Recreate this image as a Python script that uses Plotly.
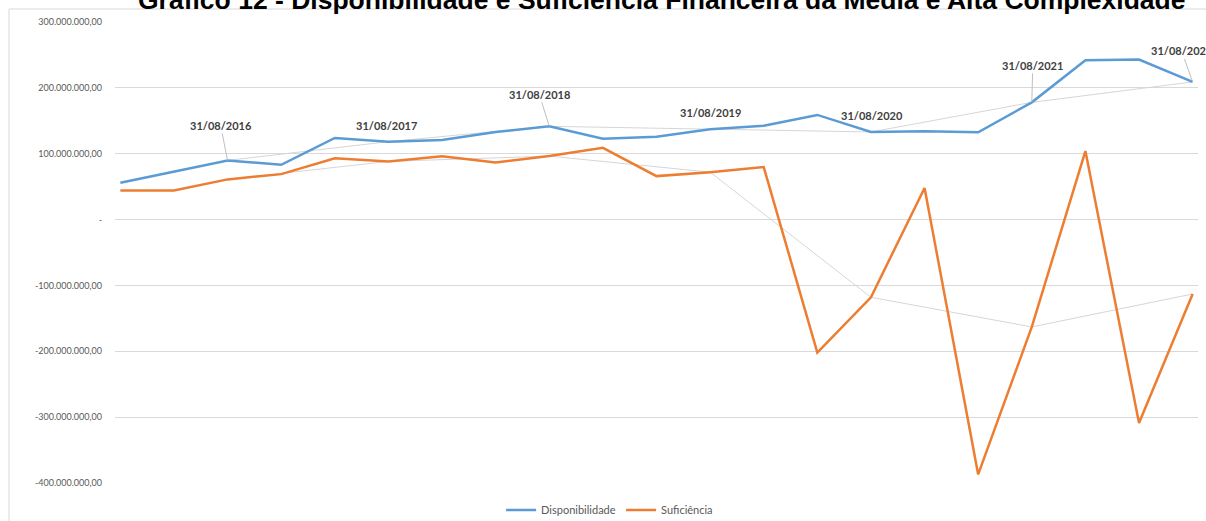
import plotly.graph_objects as go

# quadrimestral closing dates (31/12/2015 .. 31/08/2022)
datas = ["31/12/2015", "30/04/2016", "31/08/2016", "31/12/2016", "30/04/2017", "31/08/2017",
         "31/12/2017", "30/04/2018", "31/08/2018", "31/12/2018", "30/04/2019", "31/08/2019",
         "31/12/2019", "30/04/2020", "31/08/2020", "31/12/2020", "30/04/2021", "31/08/2021",
         "31/12/2021", "30/04/2022", "31/08/2022"]

# values in R$ millions
disponibilidade = [55.8, 72.6, 89.8, 83.2, 123.9, 118.3, 120.8, 133.0, 141.6, 122.8, 125.9, 137.0,
                   142.6, 158.9, 133.0, 134.0, 132.5, 178.0, 242.0, 243.0, 209.0]
suficiencia = [44.0, 44.0, 61.0, 69.0, 93.0, 88.3, 96.0, 86.8, 96.4, 109.0, 66.0, 72.0,
               79.7, -202.0, -118.0, 48.0, -387.0, -163.0, 104.0, -309.0, -113.0]

# labelled points (31/08 of each year)
idx_ago = [2, 5, 8, 11, 14, 17, 20]

y_ticks = [300, 200, 100, 0, -100, -200, -300, -400]
y_ticktext = ["300.000.000,00", "200.000.000,00", "100.000.000,00", "-",
              "-100.000.000,00", "-200.000.000,00", "-300.000.000,00", "-400.000.000,00"]

AZUL = "#5B9BD5"
LARANJA = "#ED7D31"
CINZA = "#D9D9D9"
TXT = "#595959"

x = list(range(len(datas)))

fig = go.Figure()

# thin grey lines joining the 31/08 points
for serie in (disponibilidade, suficiencia):
    fig.add_trace(go.Scatter(x=[x[i] for i in idx_ago], y=[serie[i] for i in idx_ago],
                             mode="lines", line=dict(color="#D6D6D6", width=1),
                             showlegend=False, hoverinfo="skip"))

fig.add_trace(go.Scatter(x=x, y=disponibilidade, mode="lines", name="Disponibilidade",
                         line=dict(color=AZUL, width=2.5), customdata=datas))
fig.add_trace(go.Scatter(x=x, y=suficiencia, mode="lines", name="Suficiência",
                         line=dict(color=LARANJA, width=2.5), customdata=datas))

# data labels (dx, dy in px from the point, leader line or not)
offsets = {2: (-7, -35, True), 5: (-2, -16, False), 8: (-10, -32, True),
           11: (0, -17, False), 14: (1, -16, False), 17: (1, -37, True), 20: (-11, -31, True)}
lbl_font = dict(family="Lato", size=11, color="#404040")
for i in idx_ago:
    dx, dy, leader = offsets[i]
    if leader:
        fig.add_annotation(x=x[i], y=disponibilidade[i], text="<b>" + datas[i] + "</b>",
                           showarrow=True, ax=dx, ay=dy, arrowhead=0, arrowwidth=1,
                           arrowcolor="#BFBFBF", standoff=0, font=lbl_font)
    else:
        fig.add_annotation(x=x[i], y=disponibilidade[i], text="<b>" + datas[i] + "</b>",
                           showarrow=False, xshift=dx, yshift=-dy, font=lbl_font)

# title, partly cut at the top as in the original
fig.add_annotation(xref="paper", yref="paper", x=0.505, y=1.048, yanchor="middle",
                   text="<b>Gráfico 12 - Disponibilidade e Suficiência Financeira da Média e Alta Complexidade</b>",
                   showarrow=False, font=dict(family="Liberation Sans", size=26.5, color="black"))

# chart frame
fig.add_shape(type="line", xref="paper", yref="paper", x0=-0.0979, x1=-0.0979, y0=1.0282, y1=-0.2,
              line=dict(color=CINZA, width=1))
fig.add_shape(type="line", xref="paper", yref="paper", x0=-0.0979, x1=1.1, y0=1.0282, y1=1.0282,
              line=dict(color=CINZA, width=1))

fig.update_layout(
    width=1206, height=521,
    margin=dict(l=115, r=8, t=22, b=38, autoexpand=False),
    plot_bgcolor="white", paper_bgcolor="white",
    font=dict(family="Lato", size=10, color=TXT),
    legend=dict(orientation="h", x=0.3565, xanchor="left", y=-0.0586, yanchor="middle",
                entrywidth=75, entrywidthmode="pixels",
                font=dict(size=11, color=TXT)),
)
fig.update_xaxes(range=[-0.1, 20.1], showticklabels=False, showgrid=False, zeroline=False,
                 showline=False)
fig.update_yaxes(range=[-400, 300], tickvals=y_ticks, ticktext=y_ticktext, showgrid=True,
                 gridcolor=CINZA, gridwidth=1, zeroline=False, showline=False, automargin=False,
                 tickfont=dict(size=9, color=TXT), ticks="", ticklabelstandoff=12)

# drop the browser's default body margin so the figure sits at the page corner
fig.write_html("out.html", config={"displayModeBar": False},
               post_script="document.body.style.margin='0';")
